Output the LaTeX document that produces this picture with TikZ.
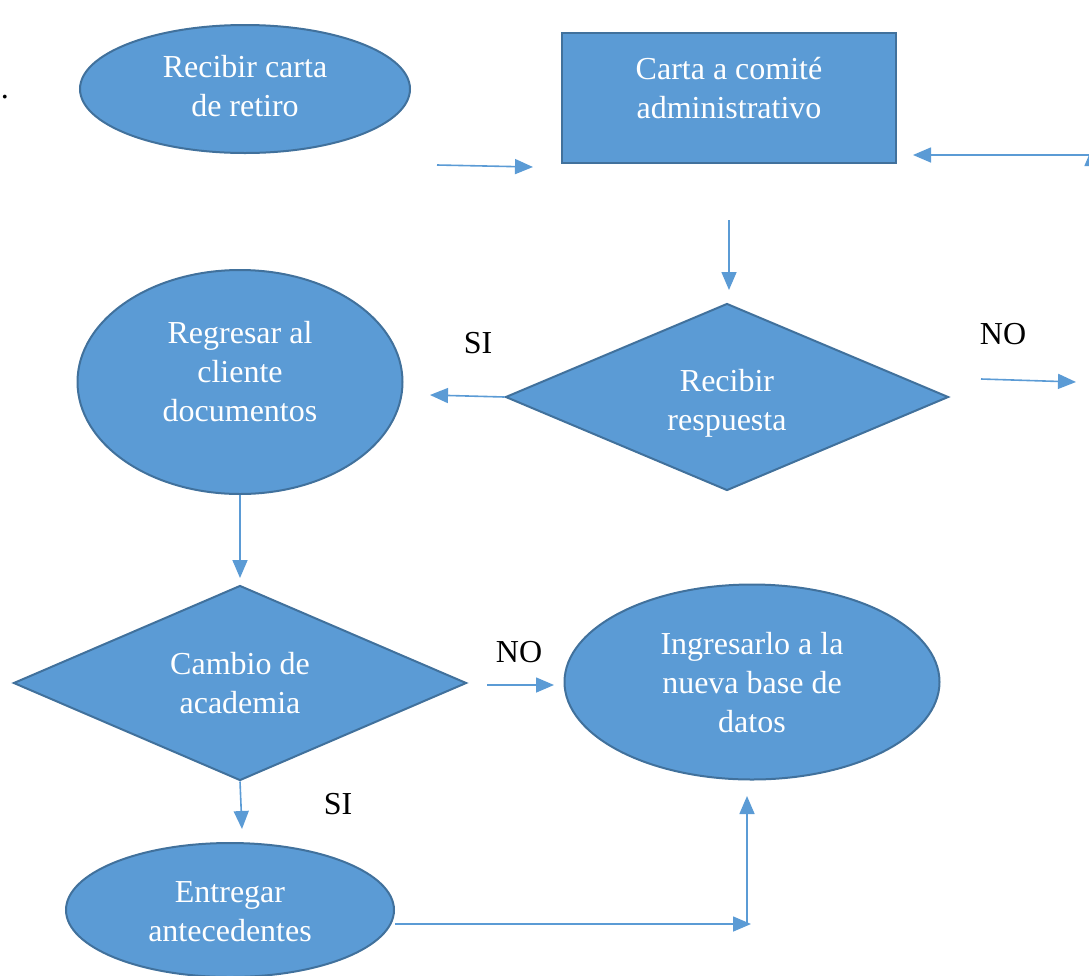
\documentclass[tikz,border=0pt]{standalone}
\usepackage{fontspec}
\setmainfont{Liberation Serif}
\usetikzlibrary{shapes.geometric,arrows.meta}
\definecolor{boxfill}{HTML}{5B9BD5}
\definecolor{boxline}{HTML}{41719C}
\definecolor{conn}{HTML}{5B9BD5}
\tikzset{
  shp/.style={fill=boxfill,draw=boxline,line width=2pt,inner sep=0pt},
  ell/.style={shp,ellipse},
  dia/.style={shp,diamond},
  rectbox/.style={shp,rectangle},
  tx/.style={text=white,align=center,inner sep=0pt,font=\fontsize{32}{39}\selectfont},
  conn/.style={draw=conn,line width=1.6pt,-{Triangle[length=18pt,width=15pt]}},
  lbl/.style={font=\fontsize{32}{39}\selectfont,text=black,inner sep=0pt}
}
\begin{document}
\begin{tikzpicture}[x=1pt,y=-1pt]
\useasboundingbox (0,0) rectangle (1089,975);
\node[lbl] (dot) at (5,97) {.};
\node[ell,minimum width=330pt,minimum height=128pt] (e1) at (245,89) {};
\node[tx] (e1t) at (245,86) {Recibir carta\\de retiro};
\node[rectbox,minimum width=334pt,minimum height=130pt] (r1) at (729,98) {};
\node[tx] (r1t) at (729,88) {Carta a comité\\administrativo};
\node[dia,minimum width=443pt,minimum height=187pt,aspect=2.37] (d1) at (727,397) {};
\node[tx] (d1t) at (727,403) {Recibir\\respuesta};
\node[ell,minimum width=325pt,minimum height=224pt] (e2) at (240,382) {};
\node[tx] (e2t) at (240,372) {Regresar al\\cliente\\documentos};
\node[dia,minimum width=453pt,minimum height=195pt,aspect=2.32] (d2) at (240,683) {};
\node[tx] (d2t) at (240,683) {Cambio de\\academia};
\node[ell,minimum width=375pt,minimum height=195pt] (e3) at (752,682) {};
\node[tx] (e3t) at (752,683) {Ingresarlo a la\\nueva base de\\datos};
\node[ell,minimum width=328pt,minimum height=134pt] (e4) at (230,910) {};
\node[tx] (e4t) at (230,912) {Entregar\\antecedentes};
\node[lbl] (si1) at (478,343) {SI};
\node[lbl] (no1) at (1003,334) {NO};
\node[lbl] (no2) at (519,652) {NO};
\node[lbl] (si2) at (338,804) {SI};
% free connector ends
\coordinate (a1s) at (437,165);
\coordinate (a1e) at (533,167);
\coordinate (a2s) at (1089,155);
\coordinate (a2e) at (913,155);
\coordinate (a3s) at (1092,420);
\coordinate (a3e) at (1092,148);
\coordinate (a4s) at (729,220);
\coordinate (a4e) at (729,290);
\coordinate (a5e) at (430,395);
\coordinate (a6s) at (981,379);
\coordinate (a6e) at (1076,382);
\coordinate (a7e) at (240,578);
\coordinate (a8s) at (487,685);
\coordinate (a8e) at (554,685);
\coordinate (a9e) at (242,829);
\coordinate (a10e) at (751,924);
\coordinate (a11s) at (747,924);
\coordinate (a11e) at (747,796);
\draw[conn] (a1s) -- (a1e);
\draw[conn] (a2s) -- (a2e);
\draw[conn] (a3s) -- (a3e);
\draw[conn] (a4s) -- (a4e);
\draw[conn] (d1.west) -- (a5e);
\draw[conn] (a6s) -- (a6e);
\draw[conn] (e2.south) -- (a7e);
\draw[conn] (a8s) -- (a8e);
\draw[conn] (d2.south) -- (a9e);
\draw[conn] (e4.east |- a10e) -- (a10e);
\draw[conn] (a11s) -- (a11e);
\end{tikzpicture}
\end{document}
